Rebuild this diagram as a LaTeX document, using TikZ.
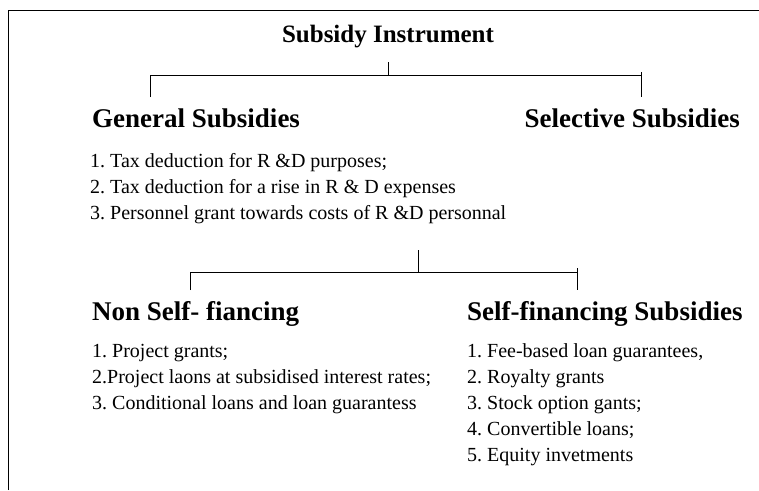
\documentclass[tikz,border=0pt]{standalone}
\usepackage{fontspec}
\setmainfont{Liberation Serif}
\frenchspacing
\tikzset{
    head/.style={font=\fontsize{27}{29}\selectfont\bfseries, inner sep=0pt, anchor=base west},
    item/.style={font=\fontsize{20}{22}\selectfont, inner sep=0pt, anchor=base west},
    bracket/.style={line width=0.8pt}
}
\begin{document}
\begin{tikzpicture}[x=1pt,y=-1pt]
            \useasboundingbox (0,0) rectangle (759,490);
            \draw[line width=1pt] (8,490) -- (8,10) -- (759,10);

            \node[head, font=\fontsize{25}{27}\selectfont\bfseries, anchor=base] (title) at (388,42) {Subsidy Instrument};
            \node[head] (general) at (92,127) {General Subsidies};
            \node[head, anchor=base east] (selective) at (740,127) {Selective Subsidies};

            \foreach \t [count=\i] in {1. Tax deduction for R \&D purposes;,
                                       2. Tax deduction for a rise in R \& D expenses,
                                       3. Personnel grant towards costs of R \&D personnal}
                {
                    \node[item] (gen\i) at (90, 141+26*\i){\t};
                }

            \node[head] (nonself) at (92,320) {Non Self- fiancing};
            \node[head] (self) at (467,320) {Self-financing Subsidies};

            \foreach \t [count=\i] in {1. Project grants;,
                                       2.Project laons at subsidised interest rates;,
                                       3. Conditional loans and loan guarantess}
                {
                    \node[item] (non\i) at (92, 331+26*\i){\t};
                }
            \foreach \t [count=\i] in {{1. Fee-based loan guarantees,},
                                       2. Royalty grants,
                                       3. Stock option gants;,
                                       4. Convertible loans;,
                                       5. Equity invetments}
                {
                    \node[item] (sf\i) at (467, 331+26*\i){\t};
                }

            % upper bracket
            \coordinate (topmid) at (388,75);
            \coordinate (topleft) at (150,75);
            \coordinate (topright) at (641,75);
            \draw[bracket] (388,62) -- (topmid);
            \draw[bracket] (150,97) -- (topleft) -- (topright) -- (641,97);
            \draw[bracket] (topright) -- ++(0,-3);

            % lower bracket
            \coordinate (lowmid) at (418,272);
            \coordinate (lowleft) at (190,272);
            \coordinate (lowright) at (577,272);
            \draw[bracket] (418,250) -- (lowmid);
            \draw[bracket] (190,290) -- (lowleft) -- (lowright) -- (577,290);
            \draw[bracket] (lowright) -- ++(0,-4);
        \end{tikzpicture}
\end{document}
